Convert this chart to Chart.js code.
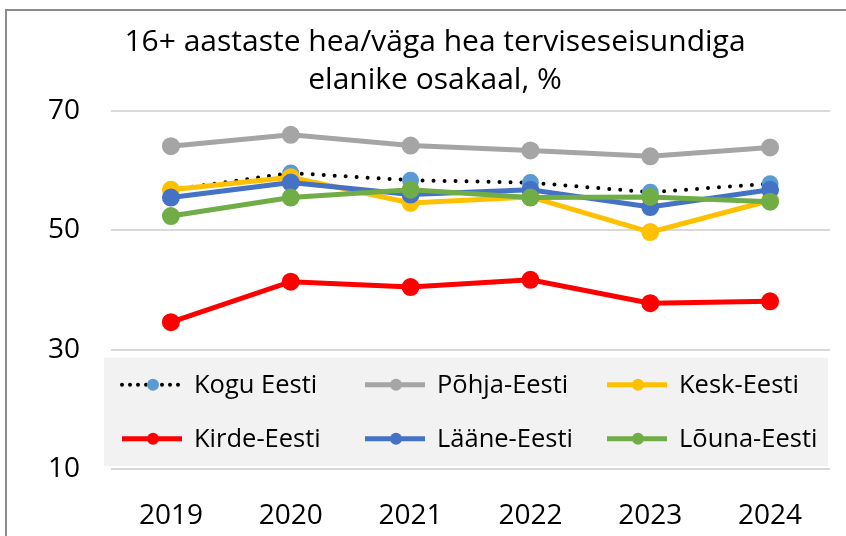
<!DOCTYPE html>
<html>
<head>
<meta charset="utf-8">
<script src="https://cdn.jsdelivr.net/npm/chart.js@4"></script>
<style>
  html, body { margin: 0; padding: 0; background: #fff; }
  #wrap { width: 846px; height: 536px; }
</style>
</head>
<body>
<div id="wrap"><canvas id="chart" width="846" height="536"></canvas></div>
<script>
// Values
const years = ['2019', '2020', '2021', '2022', '2023', '2024'];
const koguEesti = [56.8, 59.6, 58.4, 58.0, 56.4, 57.8];
const pohjaEesti = [64.1, 66.0, 64.2, 63.4, 62.4, 63.9];
const keskEesti = [56.8, 58.9, 54.6, 55.6, 49.7, 55.0];
const kirdeEesti = [34.6, 41.4, 40.5, 41.7, 37.8, 38.1];
const laaneEesti = [55.5, 58.0, 56.0, 56.8, 53.9, 56.8];
const lounaEesti = [52.4, 55.5, 56.8, 55.5, 55.6, 54.8];
const yTicks = [10, 30, 50, 70];
const titleLines = ['16+ aastaste hea/väga hea terviseseisundiga', 'elanike osakaal, %'];

const FONT = '"Open Sans", "Liberation Sans", sans-serif';

function series(label, data, color, pointColor, order, extra) {
    return Object.assign({
        label: label,
        data: data,
        borderColor: color,
        backgroundColor: pointColor,
        pointBackgroundColor: pointColor,
        pointBorderColor: pointColor,
        pointRadius: 6.5,
        pointHoverRadius: 6.5,
        borderWidth: 5,
        tension: 0,
        fill: false,
        order: order
    }, extra || {});
}

// Title and outer frame, drawn by hand
const frame = {
    id: 'frame',
    beforeDraw(chart) {
        const ctx = chart.ctx;
        ctx.save();
        ctx.fillStyle = '#fff';
        ctx.fillRect(0, 0, chart.width, chart.height);
        ctx.strokeStyle = '#8c8c8c';
        ctx.lineWidth = 2;
        ctx.strokeRect(6, 10, 900, 600);
        ctx.fillStyle = '#000';
        ctx.font = '30px ' + FONT;
        ctx.textAlign = 'center';
        ctx.textBaseline = 'middle';
        titleLines.forEach((t, i) => ctx.fillText(t, 435, 42 + i * 38));
        ctx.restore();
    }
};

// Legend in a grey box inside the plot, 3 columns x 2 rows
const boxLegend = {
    id: 'boxLegend',
    afterDatasetsDraw(chart) {
        const ctx = chart.ctx;
        const y = chart.scales.y;
        const area = chart.chartArea;
        const top = y.getPixelForValue(30) + 8;
        const bottom = y.getPixelForValue(10) - 3;
        const left = area.left - 7;
        const right = area.right - 2;
        ctx.save();
        ctx.fillStyle = '#f2f2f2';
        ctx.fillRect(left, top, right - left, bottom - top);
        const colX = [left + 16, left + 259, left + 501];
        const rowY = [top + 27, top + 81];
        chart.data.datasets.forEach((ds, i) => {
            const x = colX[i % 3];
            const yy = rowY[Math.floor(i / 3)];
            ctx.strokeStyle = ds.borderColor;
            ctx.lineWidth = ds.borderWidth;
            ctx.lineCap = ds.borderCapStyle || 'butt';
            ctx.setLineDash(ds.borderDash ? [0, 8] : []);
            ctx.beginPath();
            ctx.moveTo(x + 2, yy);
            ctx.lineTo(x + 62, yy);
            ctx.stroke();
            ctx.setLineDash([]);
            ctx.fillStyle = ds.pointBackgroundColor;
            ctx.beginPath();
            ctx.arc(x + 33, yy, 6, 0, Math.PI * 2);
            ctx.fill();
            ctx.fillStyle = '#000';
            ctx.font = '25.5px ' + FONT;
            ctx.textAlign = 'left';
            ctx.textBaseline = 'middle';
            ctx.fillText(ds.label, x + 74, yy + 1);
        });
        ctx.restore();
    }
};

new Chart(document.getElementById('chart'), {
    type: 'line',
    data: {
        labels: years,
        datasets: [
            series('Kogu Eesti', koguEesti, '#000000', '#5b9bd5', 5,
                { borderWidth: 4, borderDash: [0, 11], borderCapStyle: 'round' }),
            series('Põhja-Eesti', pohjaEesti, '#a5a5a5', '#a5a5a5', 4),
            series('Kesk-Eesti', keskEesti, '#ffc000', '#ffc000', 3),
            series('Kirde-Eesti', kirdeEesti, '#ff0000', '#ff0000', 2),
            series('Lääne-Eesti', laaneEesti, '#4472c4', '#4472c4', 1),
            series('Lõuna-Eesti', lounaEesti, '#70ad47', '#70ad47', 0)
        ]
    },
    options: {
        responsive: false,
        animation: false,
        layout: { padding: { top: 111, left: 0, right: 16, bottom: 0 } },
        plugins: {
            legend: { display: false },
            title: { display: false },
            tooltip: { enabled: false }
        },
        scales: {
            x: {
                offset: true,
                grid: { display: false },
                border: { display: false },
                ticks: { color: '#000', font: { family: FONT, size: 28 }, padding: 22 },
                afterFit: s => { s.height = 67; }
            },
            y: {
                min: 10,
                max: 70,
                afterBuildTicks: s => { s.ticks = yTicks.map(v => ({ value: v })); },
                grid: { color: '#d9d9d9', lineWidth: 2, drawTicks: false },
                border: { display: false },
                ticks: { color: '#000', font: { family: FONT, size: 28 }, padding: 31 },
                afterFit: s => { s.width = 111; }
            }
        }
    },
    plugins: [frame, boxLegend]
});
</script>
</body>
</html>
